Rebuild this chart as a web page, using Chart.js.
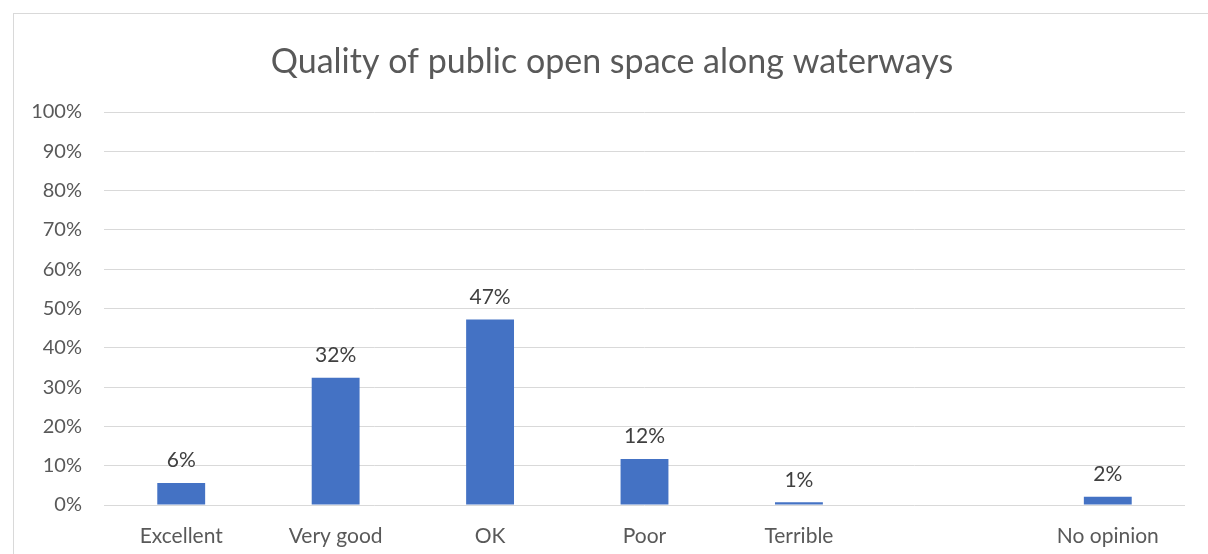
<!DOCTYPE html>
<html>
<head>
<meta charset="utf-8">
<script src="https://cdn.jsdelivr.net/npm/chart.js@4.4.0/dist/chart.umd.min.js"></script>
<style>
  html, body { margin: 0; padding: 0; background: #fff; overflow: hidden; }
  #wrap { position: relative; width: 1208px; height: 554px; }
  #frame { position: absolute; left: 13px; top: 13px; width: 1220px; height: 600px; border: 1px solid #d9d9d9; box-sizing: border-box; }
  canvas { position: absolute; left: 0; top: 0; }
</style>
</head>
<body>
<div id="wrap">
  <div id="frame"></div>
  <canvas id="qualityChart" width="1208" height="554"></canvas>
</div>
<script>
const categories = ["Excellent", "Very good", "OK", "Poor", "Terrible", "", "No opinion"];
const shares = [5.6, 32.4, 47.2, 11.7, 0.7, null, 2.1];
const tickValues = [0, 10, 20, 30, 40, 50, 60, 70, 80, 90, 100];
const chartTitle = "Quality of public open space along waterways";

const fontFamily = "Lato, 'Open Sans', sans-serif";

// labels on top of the bars
const barLabels = {
  id: "barLabels",
  afterDatasetsDraw(chart) {
    const ctx = chart.ctx;
    const meta = chart.getDatasetMeta(0);
    ctx.save();
    ctx.font = "21px " + fontFamily;
    ctx.fillStyle = "#404040";
    ctx.textAlign = "center";
    ctx.textBaseline = "bottom";
    meta.data.forEach(function (bar, i) {
      const v = shares[i];
      if (v === null) return;
      ctx.fillText(Math.round(v) + "%", bar.x, bar.y - 12);
    });
    ctx.restore();
  }
};

// title centred on the outer frame rather than the canvas
const frameTitle = {
  id: "frameTitle",
  afterDraw(chart) {
    const ctx = chart.ctx;
    ctx.save();
    ctx.font = "34px " + fontFamily;
    ctx.fillStyle = "#595959";
    ctx.textAlign = "center";
    ctx.textBaseline = "middle";
    ctx.fillText(chartTitle, 612, 62);
    ctx.restore();
  }
};

document.addEventListener("DOMContentLoaded", function () {
  const ctx = document.getElementById("qualityChart");

  new Chart(ctx, {
    type: "bar",
    data: {
      labels: categories,
      datasets: [
        {
          label: "Share",
          data: shares,
          backgroundColor: "#4472c4",
          borderWidth: 0,
          categoryPercentage: 1,
          barPercentage: 0.31,
        },
      ],
    },
    options: {
      responsive: false,
      animation: false,
      layout: { padding: { left: 0, right: 23, top: 112, bottom: 0 } },
      plugins: {
        legend: { display: false },
        tooltip: { enabled: false },
        title: { display: false },
      },
      scales: {
        x: {
          grid: { display: false },
          border: { display: false },
          ticks: { color: "#595959", font: { family: fontFamily, size: 21 }, padding: 11 },
          afterFit: function (scale) { scale.height = 49; },
        },
        y: {
          min: 0,
          max: 100,
          afterBuildTicks: function (scale) {
            scale.ticks = tickValues.map(function (v) { return { value: v }; });
          },
          grid: { color: "#d9d9d9", lineWidth: 1, drawTicks: false },
          border: { display: false },
          ticks: {
            color: "#595959",
            font: { family: fontFamily, size: 20 },
            padding: 22,
            callback: function (v) { return v + "%"; },
          },
          afterFit: function (scale) { scale.width = 104; },
        },
      },
    },
    plugins: [barLabels, frameTitle],
  });
});
</script>
</body>
</html>
